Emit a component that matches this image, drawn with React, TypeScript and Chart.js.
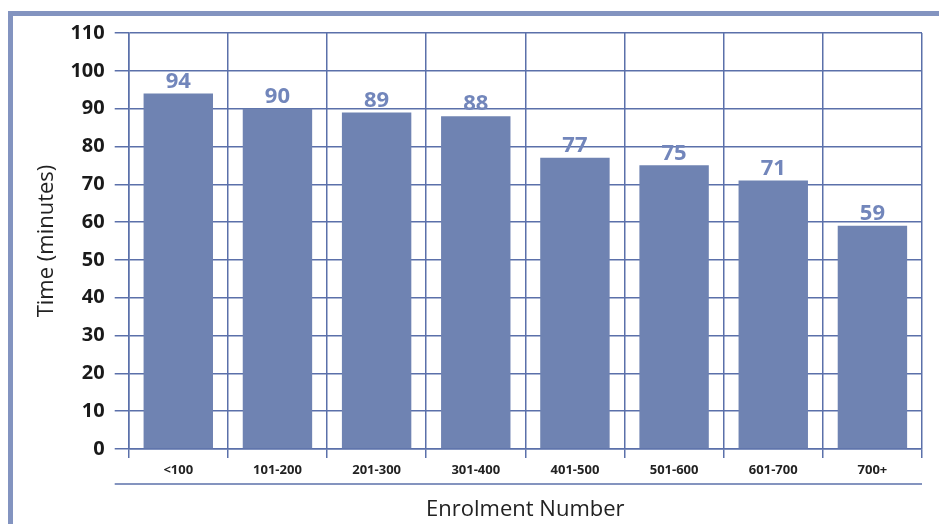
import React, { useEffect, useRef } from "react";
import { Chart, registerables } from "chart.js";

Chart.register(...registerables);

const categories = ["<100", "101-200", "201-300", "301-400", "401-500", "501-600", "601-700", "700+"];
const timeMinutes = [94, 90, 89, 88, 77, 75, 71, 59];
const yTicks = { min: 0, max: 110, step: 10 };

const BAR = "#6f83b2";
const LABEL = "#7286bb";
const GRID = "#5b70aa";
const FONT = "'Open Sans', 'Liberation Sans', sans-serif";

export default function App() {
  const ref = useRef<HTMLCanvasElement | null>(null);
  useEffect(() => {
    const valueLabels = {
      id: "valueLabels",
      afterDatasetsDraw(chart: any) {
        const ctx = chart.ctx;
        const meta = chart.getDatasetMeta(0);
        ctx.save();
        ctx.fillStyle = LABEL;
        ctx.font = `bold 22px ${FONT}`;
        ctx.textAlign = "center";
        ctx.textBaseline = "bottom";
        meta.data.forEach((el: any, i: number) => {
          ctx.fillText(String(timeMinutes[i]), el.x, el.y - 1);
        });
        ctx.restore();
      },
    };
    const bottomLine = {
      id: "bottomLine",
      afterDraw(chart: any) {
        const ctx = chart.ctx;
        const a = chart.chartArea;
        ctx.save();
        ctx.strokeStyle = GRID;
        ctx.lineWidth = 1.5;
        ctx.beginPath();
        ctx.moveTo(a.left - 14, a.bottom + 35);
        ctx.lineTo(a.right, a.bottom + 35);
        ctx.stroke();
        ctx.restore();
      },
    };
    const chart = new Chart(ref.current!, {
      type: "bar",
      data: {
        labels: categories,
        datasets: [
          {
            data: timeMinutes,
            backgroundColor: BAR,
            barPercentage: 0.7,
            categoryPercentage: 1,
          },
        ],
      },
      plugins: [valueLabels, bottomLine],
      options: {
        animation: false,
        responsive: false,
        maintainAspectRatio: false,
        layout: { padding: { top: 33, right: 17, left: 34, bottom: 1 } },
        plugins: { legend: { display: false }, tooltip: { enabled: false } },
        scales: {
          x: {
            grid: { color: GRID, lineWidth: 1.5, tickLength: 9, offset: true, drawOnChartArea: true },
            border: { color: GRID, width: 1.5 },
            ticks: { color: "#222", font: { family: FONT, size: 13, weight: "bold" }, padding: 4 },
            title: {
              display: true,
              text: "Enrolment Number",
              color: "#222",
              font: { family: FONT, size: 22 },
              padding: { top: 15, bottom: 0 },
            },
          },
          y: {
            min: yTicks.min,
            max: yTicks.max,
            grid: { color: GRID, lineWidth: 1.5, tickLength: 14 },
            border: { color: GRID, width: 1.5 },
            ticks: {
              stepSize: yTicks.step,
              color: "#1a1a1a",
              font: { family: FONT, size: 20, weight: "bold" },
              padding: 10,
            },
            title: {
              display: true,
              text: "Time (minutes)",
              color: "#222",
              font: { family: FONT, size: 22 },
              padding: { top: 0, bottom: 0 },
            },
          },
        },
      },
    });
    return () => chart.destroy();
  }, []);
  return (
    <div style={{ position: "fixed", left: 0, top: 0, width: 939, height: 524, background: "#fff" }}>
      <div
        style={{
          position: "absolute",
          left: 8,
          top: 11,
          width: 931,
          height: 513,
          borderTop: "5px solid #8394c0",
          borderLeft: "5px solid #8394c0",
          boxSizing: "border-box",
        }}
      />
      <canvas ref={ref} width={939} height={524} style={{ position: "absolute", left: 0, top: 0 }} />
    </div>
  );
}
